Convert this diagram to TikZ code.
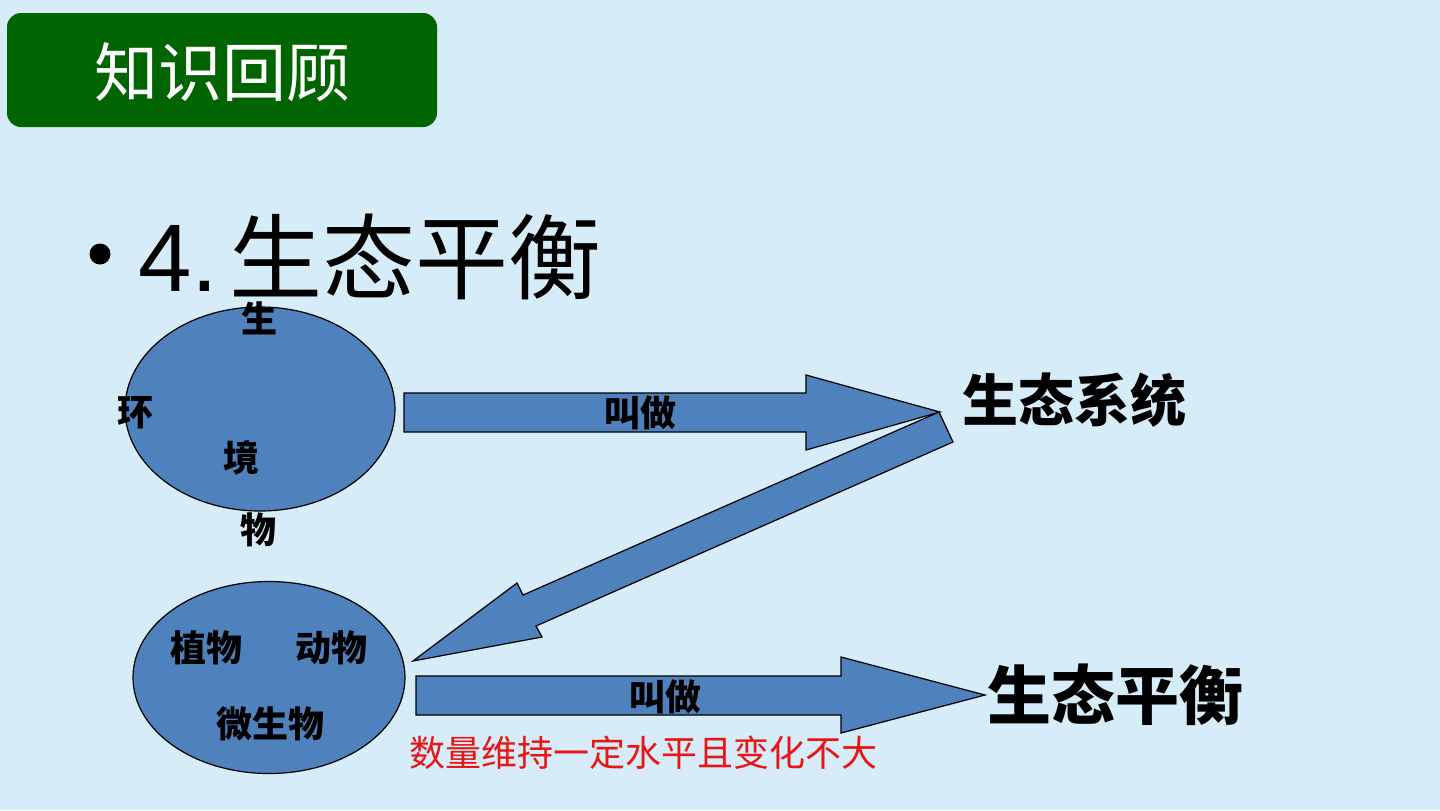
\documentclass[tikz,border=0pt]{standalone}
\usepackage{fontspec}
\setmainfont{Liberation Sans}
\newfontfamily\cjk{Noto Sans CJK SC}
\definecolor{bgblue}{RGB}{214,236,248}
\definecolor{titlegreen}{RGB}{0,100,0}
\definecolor{shapeblue}{RGB}{79,129,189}
\definecolor{redtext}{RGB}{235,20,20}
\begin{document}
\begin{tikzpicture}[x=0.5pt,y=-0.5pt,
  blob/.style={draw=black,line width=0.6pt,fill=shapeblue},
  blockarrow/.style={draw=black,line width=0.6pt,fill=shapeblue,line join=miter},
  lbl/.style={inner sep=0pt,font=\cjk\bfseries\fontsize{18pt}{20pt}\selectfont,text=black},
  bigbold/.style={inner sep=0pt,font=\cjk\bfseries,text=black}]
\fill[bgblue] (0,0) rectangle (1440,810);
\useasboundingbox (0,0) rectangle (1440,810);
% title
\fill[titlegreen,rounded corners=7pt] (7,13) rectangle (437,127);
\node[inner sep=0pt,text=white,font=\cjk\fontsize{32pt}{36pt}\selectfont] (title) at (222,72) {知识回顾};
% heading
\fill[black] (100,254) circle (10.5);
\node[inner sep=0pt,anchor=base west,font=\fontsize{48pt}{52pt}\selectfont] (num) at (138,291) {4.};
\node[inner sep=0pt,font=\cjk\fontsize{46.5pt}{50pt}\selectfont] (head) at (415,257) {生态平衡};
% ellipse 1
\draw[blob] (260,409) ellipse (135 and 102);
\node[lbl] (e1a) at (259,318) {生};
\node[lbl] (e1b) at (135,413) {环};
\node[lbl] (e1c) at (241,458) {境};
\node[lbl] (e1d) at (258,530) {物};
% ellipse 2
\draw[blob] (269,677.5) ellipse (136 and 96);
\node[lbl] (e2a) at (206,648) {植物};
\node[lbl] (e2b) at (331,648) {动物};
\node[lbl] (e2c) at (270,724) {微生物};
% arrow 1
\draw[blockarrow] (404,393) -- (806,393) -- (806,375) -- (940,412) -- (806,450) -- (806,432) -- (404,432) -- cycle;
\node[lbl] (jz1) at (640,413) {叫做};
% diagonal arrow
\draw[blockarrow] (939,412) -- (953,442) -- (536,626) -- (542,637) -- (413,661) -- (517,583) -- (523,595) -- cycle;
% arrow 3
\draw[blockarrow] (416,676) -- (841,676) -- (841,657) -- (985,695) -- (841,733) -- (841,715) -- (416,715) -- cycle;
\node[lbl] (jz2) at (665,697) {叫做};
% right texts
\node[bigbold,font=\cjk\bfseries\fontsize{28pt}{32pt}\selectfont] (eco) at (1074,400) {生态系统};
\node[bigbold,font=\cjk\bfseries\fontsize{32pt}{36pt}\selectfont] (bal) at (1115,695) {生态平衡};
\node[inner sep=0pt,text=redtext,font=\cjk\fontsize{18pt}{20pt}\selectfont] (note) at (643,753) {数量维持一定水平且变化不大};
\end{tikzpicture}
\end{document}
